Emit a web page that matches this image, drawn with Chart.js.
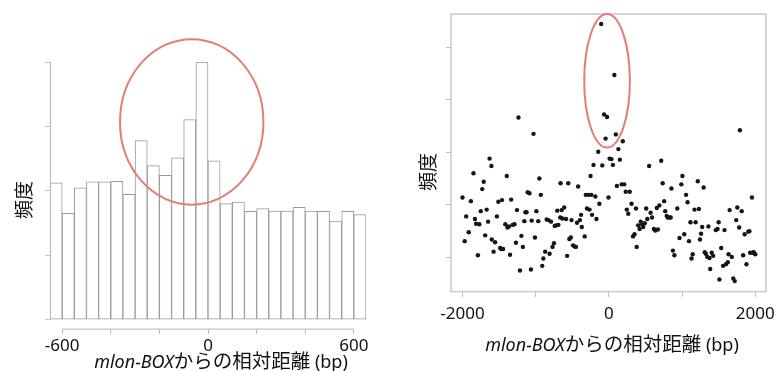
<!DOCTYPE html>
<html lang="ja">
<head>
<meta charset="UTF-8">
<title>mlon-BOXからの相対距離</title>
<script src="https://cdn.jsdelivr.net/npm/chart.js"></script>
<style>
  body { margin: 0; background: #fff; width: 777px; height: 371px; position: relative; overflow: hidden;
         font-family: "Noto Sans", "Noto Sans CJK JP", sans-serif; color: #111; }
  .panel { position: absolute; top: 0; }
  #leftBox { left: 0; }
  #rightBox { left: 390px; }
  .xtitle { position: absolute; white-space: nowrap; transform: translate(-50%, -50%); font-size: 18px; }
  .xtitle .jp { font-size: 19.5px; }
  .ytitle { position: absolute; white-space: nowrap; font-size: 19px; transform: translate(-50%, -50%) rotate(-90deg); }
</style>
</head>
<body>
<div class="panel" id="leftBox"><canvas id="histCanvas" width="390" height="371"></canvas></div>
<div class="panel" id="rightBox"><canvas id="dotCanvas" width="387" height="371"></canvas></div>

<div class="ytitle" style="left:23px; top:200px;">頻度</div>
<div class="xtitle" style="left:221px; top:359px;"><i>mlon-BOX</i><span class="jp">からの相対距離</span> (bp)</div>
<div class="ytitle" style="left:427px; top:172px;">頻度</div>
<div class="xtitle" style="left:612px; top:342px;"><i>mlon-BOX</i><span class="jp">からの相対距離</span> (bp)</div>

<script>
// 左: ヒストグラム (50bp ごとのビン中心)
const binCenters = [-625, -575, -525, -475, -425, -375, -325, -275, -225, -175, -125, -75, -25,
                    25, 75, 125, 175, 225, 275, 325, 375, 425, 475, 525, 575, 625];
const binCounts = [42.5, 33.0, 40.9, 42.8, 42.8, 42.9, 38.9, 55.6, 47.8, 44.8, 50.2, 62.1, 80.0,
                   49.3, 36.0, 36.5, 33.6, 34.5, 33.7, 33.7, 34.9, 33.7, 33.6, 30.6, 33.6, 32.6];
const histXTicks = [-600, -400, -200, 0, 200, 400, 600];
const histYTicks = [0, 20, 40, 60, 80];
const histTickLabels = [-600, 0, 600];

// 右: 散布図
const dotX = [-2000, -1970, -1950, -1915, -1885, -1850, -1830, -1815, -1790, -1770, -1750, -1730, -1710, -1690,
  -1670, -1650, -1630, -1605, -1600, -1575, -1555, -1530, -1510, -1485, -1470, -1460, -1445, -1415, -1395,
  -1385, -1365, -1350, -1335, -1315, -1290, -1270, -1255, -1235, -1215, -1195, -1175, -1155, -1140, -1125,
  -1110, -1085, -1065, -1055, -1030, -1010, -990, -965, -950, -930, -910, -895, -870, -850, -825, -810,
  -790, -770, -750, -740, -720, -705, -690, -665, -660, -645, -635, -610, -585, -570, -555, -540, -520,
  -510, -490, -470, -450, -435, -420, -395, -380, -370, -330, -315, -300, -280, -265, -250, -240, -230,
  -210, -185, -170, -145, -130, -90, -105, -65, -25, -45, -5, 10, 35, 55, 75, 95, 110, 130, 150, 175, 190,
  210, 230, 245, 265, 285, 310, 330, 350, 370, 380, 400, 420, 435, 455, 470, 490, 510, 525, 550, 570, 590,
  615, 635, 655, 670, 690, 715, 735, 755, 770, 790, 805, 825, 845, 855, 875, 895, 935, 965, 990, 1005,
  1030, 1055, 1075, 1095, 1115, 1130, 1145, 1170, 1185, 1215, 1230, 1245, 1260, 1275, 1295, 1310, 1325,
  1345, 1360, 1385, 1375, 1405, 1425, 1460, 1485, 1500, 1510, 1535, 1560, 1580, 1600, 1625, 1635, 1650,
  1680, 1700, 1720, 1740, 1755, 1780, 1790, 1815, 1835, 1855, 1880, 1905, 1920, 1930, 1955, 1965, 1980, 2000];
const dotY = [21.4, 13.1, 17.8, 14.8, 20.7, 26.0, 17.3, 16.4, 10.4, 16.3, 18.8, 23.0, 24.4, 14.2,
  19.1, 16.8, 28.8, 27.4, 13.4, 11.1, 12.9, 17.8, 20.6, 11.8, 11.6, 20.9, 11.6, 16.3, 25.5,
  15.7, 15.9, 10.5, 21.0, 16.2, 16.3, 12.8, 19.0, 36.6, 7.5, 14.1, 12.0, 16.9, 18.6, 18.6,
  22.4, 22.2, 7.7, 17.0, 33.5, 13.8, 18.8, 16.9, 25.0, 21.9, 8.4, 9.8, 11.1, 17.2, 17.1, 10.7,
  16.8, 12.0, 12.7, 16.0, 16.1, 18.9, 16.2, 17.6, 24.1, 19.0, 17.4, 19.5, 17.3, 10.3, 24.1, 13.5, 13.8,
  17.1, 12.3, 12.1, 12.0, 16.6, 23.5, 17.1, 18.1, 15.8, 14.0, 21.9, 19.3, 21.9, 19.1, 25.5, 21.9, 18.1,
  27.6, 21.6, 17.3, 30.1, 20.2, 27.5, 54.4, 37.2, 36.7, 32.6, 21.4, 28.8, 28.7, 27.6, 44.7, 33.4, 23.6, 30.6, 28.6, 23.9, 32.1,
  23.9, 22.5, 19.1, 18.3, 22.5, 20.2, 14.0, 14.4, 19.3, 12.0, 16.1, 15.4, 16.8, 16.2, 15.8, 16.5, 19.3, 17.3, 27.4, 18.5, 17.6,
  15.4, 15.1, 19.4, 15.3, 19.9, 28.4, 24.1, 20.7, 18.8, 17.9, 17.6, 17.6, 17.6, 23.1, 11.3, 10.4, 19.3, 13.7, 23.9, 25.5,
  14.4, 21.9, 20.5, 13.1, 16.7, 9.8, 10.6, 19.1, 16.7, 24.5, 19.2, 13.4, 14.5, 15.8, 23.3, 11.0, 10.7,
  10.1, 15.9, 7.8, 9.9, 10.9, 10.3, 15.2, 15.4, 16.7, 5.8, 11.8, 8.4, 15.2, 8.7, 9.1, 10.6, 19.0,
  10.1, 6.0, 5.5, 17.1, 19.5, 15.7, 34.2, 18.8, 10.4, 14.4, 8.7, 14.9, 15.0, 10.9, 21.4, 10.9, 11.0, 10.6];
const dotXTicks = [-2000, -1000, 0, 1000, 2000];
const dotYTicks = [10, 20, 30, 40, 50];
const dotTickLabels = [-2000, 0, 2000];

Chart.defaults.font.family = '"Noto Sans", "Noto Sans CJK JP", sans-serif';
Chart.defaults.color = '#111';

const fixedTicks = list => scale => { scale.ticks = list.map(v => ({ value: v })); };

// 赤い楕円 (データ座標で指定)
const ringPlugin = {
  id: 'ring',
  afterDraw(chart, args, opts) {
    const { ctx, scales: { x, y } } = chart;
    const cx = x.getPixelForValue(opts.x);
    const cy = y.getPixelForValue(opts.y);
    const rx = Math.abs(x.getPixelForValue(opts.x + opts.rx) - cx);
    const ry = Math.abs(y.getPixelForValue(opts.y + opts.ry) - cy);
    ctx.save();
    ctx.strokeStyle = 'rgb(226,126,116)';
    ctx.lineWidth = 2;
    ctx.beginPath();
    ctx.ellipse(cx, cy, rx, ry, 0, 0, Math.PI * 2);
    ctx.stroke();
    ctx.restore();
  }
};

// ヒストグラムの軸線 (0〜80 と -600〜600 の範囲だけ)
const histAxisPlugin = {
  id: 'histAxis',
  afterDatasetsDraw(chart) {
    const { ctx, chartArea, scales: { x, y } } = chart;
    ctx.save();
    ctx.strokeStyle = '#b5b5b5';
    ctx.lineWidth = 1;
    ctx.beginPath();
    ctx.moveTo(chartArea.left + 0.5, y.getPixelForValue(80));
    ctx.lineTo(chartArea.left + 0.5, y.getPixelForValue(0));
    ctx.moveTo(x.getPixelForValue(-600), chartArea.bottom + 0.5);
    ctx.lineTo(x.getPixelForValue(600), chartArea.bottom + 0.5);
    ctx.stroke();
    ctx.restore();
  }
};

// 散布図の枠
const framePlugin = {
  id: 'frame',
  afterDraw(chart) {
    const { ctx, chartArea: a } = chart;
    ctx.save();
    ctx.strokeStyle = '#c8c8c8';
    ctx.lineWidth = 1.5;
    ctx.strokeRect(a.left, a.top, a.right - a.left, a.bottom - a.top);
    ctx.restore();
  }
};

new Chart(document.getElementById('histCanvas'), {
  type: 'bar',
  data: {
    datasets: [{
      data: binCenters.map((c, i) => ({ x: c, y: binCounts[i] })),
      backgroundColor: '#ffffff',
      borderColor: '#9a9a9a',
      borderWidth: 1,
      borderSkipped: false,
      barPercentage: 1,
      categoryPercentage: 1
    }]
  },
  options: {
    responsive: false,
    animation: false,
    layout: { padding: { left: 45, right: 24, top: 62, bottom: 13 } },
    plugins: {
      legend: { display: false },
      tooltip: { enabled: false },
      ring: { x: -67, y: 61.4, rx: 295, ry: 25.7 }
    },
    scales: {
      x: {
        type: 'linear', min: -650, max: 650, offset: false,
        afterBuildTicks: fixedTicks(histXTicks),
        border: { display: false },
        grid: { offset: false, drawOnChartArea: false, tickLength: 5, color: '#b5b5b5' },
        ticks: {
          autoSkip: false, maxRotation: 0, padding: 2, font: { size: 17 },
          callback: v => histTickLabels.includes(v) ? String(v) : ''
        }
      },
      y: {
        min: -2.8, max: 80,
        afterBuildTicks: fixedTicks(histYTicks),
        border: { display: false },
        grid: { drawOnChartArea: false, tickLength: 5, color: '#c5c5c5' },
        ticks: { display: false }
      }
    }
  },
  plugins: [histAxisPlugin, ringPlugin]
});

new Chart(document.getElementById('dotCanvas'), {
  type: 'scatter',
  data: {
    datasets: [{
      data: dotX.map((v, i) => ({ x: v, y: dotY[i] })),
      pointRadius: 2.2,
      pointBackgroundColor: '#151515',
      pointBorderWidth: 0
    }]
  },
  options: {
    responsive: false,
    animation: false,
    layout: { padding: { left: 56, right: 9, top: 14, bottom: 45 } },
    plugins: {
      legend: { display: false },
      tooltip: { enabled: false },
      ring: { x: -25, y: 43.6, rx: 312, ry: 12.7 }
    },
    scales: {
      x: {
        type: 'linear', min: -2157, max: 2145,
        afterBuildTicks: fixedTicks(dotXTicks),
        border: { display: false },
        // 目盛り線は 5px だけ見せて、ラベルを少し下げる
        grid: { drawOnChartArea: false, tickLength: 10, tickBorderDash: [5, 40], color: '#c0c0c0' },
        ticks: {
          autoSkip: false, maxRotation: 0, padding: 2, font: { size: 17 },
          callback: v => dotTickLabels.includes(v) ? String(v) : ''
        }
      },
      y: {
        min: 3.5, max: 56.3,
        afterBuildTicks: fixedTicks(dotYTicks),
        border: { display: false },
        grid: { drawOnChartArea: false, tickLength: 5, color: '#c0c0c0' },
        ticks: { display: false }
      }
    }
  },
  plugins: [framePlugin, ringPlugin]
});
</script>
</body>
</html>
